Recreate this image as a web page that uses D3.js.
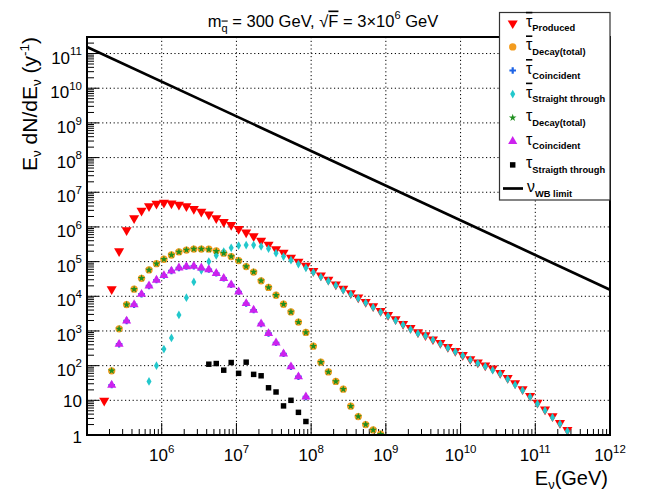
<!DOCTYPE html>
<html>
<head>
<meta charset="utf-8">
<script src="https://cdn.jsdelivr.net/npm/d3@7"></script>
<style>
  body { margin: 0; background: #fff; }
  svg text { font-family: "Liberation Sans", Arial, Helvetica, sans-serif; fill: #000; }
</style>
</head>
<body>
<script>
// bin energies in GeV (ten bins per decade)
const energies = [
  1.70e5, 2.14e5, 2.69e5, 3.39e5, 4.27e5, 5.37e5, 6.76e5, 8.51e5,
  1.07e6, 1.35e6, 1.70e6, 2.14e6, 2.69e6, 3.39e6, 4.27e6, 5.37e6, 6.76e6, 8.51e6,
  1.07e7, 1.35e7, 1.70e7, 2.14e7, 2.69e7, 3.39e7, 4.27e7, 5.37e7, 6.76e7, 8.51e7,
  1.07e8, 1.35e8, 1.70e8, 2.14e8, 2.69e8, 3.39e8, 4.27e8, 5.37e8, 6.76e8, 8.51e8,
  1.07e9, 1.35e9, 1.70e9, 2.14e9, 2.69e9, 3.39e9, 4.27e9, 5.37e9, 6.76e9, 8.51e9,
  1.07e10, 1.35e10, 1.70e10, 2.14e10, 2.69e10, 3.39e10, 4.27e10, 5.37e10, 6.76e10, 8.51e10,
  1.07e11, 1.35e11, 1.70e11, 2.14e11, 2.69e11
];

// each series starts at a bin index
const producedStart = 0;
const tauBarProduced = [
  9.8, 1.6e4, 2.0e5, 8.1e5, 1.8e6, 2.95e6, 4.0e6, 4.7e6, 5.0e6, 4.8e6,
  4.4e6, 4.0e6, 3.3e6, 2.75e6, 2.3e6, 1.8e6, 1.4e6, 1.15e6, 8.7e5, 6.9e5,
  5.4e5, 4.0e5, 3.1e5, 2.3e5, 1.8e5, 1.3e5, 1.0e5, 7.6e4, 5.4e4, 4.0e4,
  3.0e4, 2.2e4, 1.66e4, 1.23e4, 9.3e3, 6.9e3, 5.2e3, 3.8e3, 2.9e3, 2.2e3,
  1.6e3, 1.23e3, 930, 760, 575, 450, 345, 265, 205, 155,
  123, 102, 83, 62, 44, 31, 21, 13.5, 8.5, 5.5,
  3.5, 2.24, 1.4
];

const decayStart = 1;
const tauBarDecay = [
  71, 1.15e3, 5.75e3, 1.6e4, 3.3e4, 5.75e4, 8.7e4, 1.17e5, 1.55e5, 1.9e5,
  2.15e5, 2.3e5, 2.3e5, 2.3e5, 2.05e5, 1.75e5, 1.4e5, 1.07e5, 7.2e4, 5.0e4,
  2.8e4, 1.8e4, 1.07e4, 5.9e3, 3.55e3, 1.8e3, 910, 365, 126, 66,
  35, 21, 6.8, 3.4, 2.0, 1.4, 1.05
];
const tauDecay = [
  71, 1.15e3, 5.75e3, 1.6e4, 3.3e4, 5.75e4, 8.7e4, 1.17e5, 1.55e5, 1.9e5,
  2.15e5, 2.3e5, 2.3e5, 2.25e5, 2.0e5, 1.75e5, 1.4e5, 1.07e5, 7.2e4, 5.0e4,
  2.8e4, 1.8e4, 1.07e4, 5.9e3, 3.55e3, 1.8e3, 910, 365, 126, 66,
  35, 21, 6.8, 3.4, 2.0, 1.4, 1.05
];

const coincStart = 1;
const tauBarCoincident = [
  27.5, 417, 1.95e3, 5.75e3, 1.15e4, 2.0e4, 2.95e4, 4.0e4, 5.4e4, 6.6e4,
  7.2e4, 7.4e4, 6.0e4, 5.9e4, 4.6e4, 3.3e4, 2.15e4, 1.35e4, 6.2e3, 4.0e3,
  1.6e3, 850, 457, 219, 93, 48, 12.6
];
const tauCoincident = [
  27.5, 417, 1.95e3, 5.75e3, 1.15e4, 2.0e4, 2.95e4, 4.0e4, 5.4e4, 6.6e4,
  7.2e4, 7.4e4, 6.6e4, 5.9e4, 4.6e4, 3.3e4, 2.15e4, 1.35e4, 6.2e3, 4.0e3,
  1.6e3, 850, 457, 219, 93, 48, 12.6
];

const tauBarStraightStart = 6;
const tauBarStraight = [
  35, 100, 300, 630, 2.9e3, 9.1e3, 2.6e4, 5.6e4, 1.0e5, 1.5e5,
  1.95e5, 2.5e5, 2.9e5, 3.0e5, 3.0e5, 2.75e5, 2.35e5, 1.75e5, 1.4e5, 1.1e5,
  8.5e4, 6.6e4, 4.9e4, 3.6e4, 2.75e4, 2.05e4, 1.5e4, 1.15e4, 8.7e3, 6.5e3,
  4.8e3, 3.5e3, 2.7e3, 2.0e3, 1.5e3, 1.12e3, 850, 720, 550, 425,
  325, 250, 195, 148, 117, 95, 74, 58, 41, 28,
  19.5, 12.6, 7.9, 5.1, 3.2, 2.1, 1.3
];

const tauStraightStart = 14;
const tauStraight = [110, 115, 74, 123, 60, 126, 56, 51, 23, 17.4, 6.9, 10, 4.5, 2.45];

// Waxman-Bahcall limit
const wbEnergy = [1e5, 1e12];
const wbFlux = [1.55e11, 1.55e4];

const xTickValues = [1e6, 1e7, 1e8, 1e9, 1e10, 1e11, 1e12];
const xTickExp = ['6', '7', '8', '9', '10', '11', '12'];
const yTickValues = [1, 10, 1e2, 1e3, 1e4, 1e5, 1e6, 1e7, 1e8, 1e9, 1e10, 1e11];
const yTickExp = ['', '', '2', '3', '4', '5', '6', '7', '8', '9', '10', '11'];

window.onload = () => {
  const width = 646,
    height = 491,
    left = 87,
    right = 610,
    top = 37,
    bottom = 435;

  const svg = d3
    .select('body')
    .append('svg')
    .attr('width', width)
    .attr('height', height);

  svg.append('rect').attr('width', width).attr('height', height).attr('fill', '#fff');

  const x = d3.scaleLog().domain([1e5, 1e12]).range([left, right]);
  const y = d3.scaleLog().domain([1, 3e11]).range([bottom, top]);

  svg
    .append('clipPath')
    .attr('id', 'plot')
    .append('rect')
    .attr('x', left)
    .attr('y', top)
    .attr('width', right - left)
    .attr('height', bottom - top);

  // dotted grid
  const grid = svg.append('g').attr('stroke', '#000').attr('stroke-width', 1).attr('stroke-dasharray', '1.2,2.6');
  xTickValues.slice(0, -1).forEach(v => {
    grid.append('line').attr('x1', x(v)).attr('x2', x(v)).attr('y1', top).attr('y2', bottom);
  });
  yTickValues.slice(1).forEach(v => {
    grid.append('line').attr('x1', left).attr('x2', right).attr('y1', y(v)).attr('y2', y(v));
  });

  // ticks, drawn inside the frame
  const ticks = svg.append('g').attr('stroke', '#000').attr('stroke-width', 1);
  for (let e = 5; e < 12; e++) {
    for (let m = 1; m < 10; m++) {
      const v = m * Math.pow(10, e);
      const len = m === 1 ? 12 : 6;
      if (e === 5 && m === 1) continue;
      ticks.append('line').attr('x1', x(v)).attr('x2', x(v)).attr('y1', bottom).attr('y2', bottom - len);
    }
  }
  for (let e = 0; e < 12; e++) {
    for (let m = 1; m < 10; m++) {
      const v = m * Math.pow(10, e);
      if (v > 3e11) break;
      const len = m === 1 ? 12 : 7;
      ticks.append('line').attr('x1', left).attr('x2', left + len).attr('y1', y(v)).attr('y2', y(v));
    }
  }

  // tick labels
  xTickValues.forEach((v, i) => {
    const t = svg.append('text').attr('x', x(v)).attr('y', 461).attr('text-anchor', 'middle').attr('font-size', 17);
    t.append('tspan').text('10');
    t.append('tspan').attr('dy', -8.3).attr('font-size', 11.5).text(xTickExp[i]);
  });
  yTickValues.forEach((v, i) => {
    const t = svg.append('text').attr('x', 82).attr('text-anchor', 'end').attr('font-size', 17);
    if (i === 0) {
      t.attr('y', y(v) + 7.5).text('1');
    } else if (i === 1) {
      t.attr('y', y(v) + 6.3).text('10');
    } else {
      t.attr('y', y(v) + 10);
      t.append('tspan').text('10');
      t.append('tspan').attr('dy', -8.3).attr('font-size', 11.5).text(yTickExp[i]);
    }
  });

  // axis titles
  const xt = svg.append('text').attr('x', 608).attr('y', 485).attr('text-anchor', 'end').attr('font-size', 20);
  xt.append('tspan').text('E');
  xt.append('tspan').attr('dy', 4).attr('font-size', 13).text('ν');
  xt.append('tspan').attr('dy', -4).text('(GeV)');

  const yt = svg
    .append('text')
    .attr('transform', `translate(37,${top}) rotate(-90)`)
    .attr('text-anchor', 'end')
    .attr('font-size', 21);
  yt.append('tspan').text('E');
  yt.append('tspan').attr('dy', 4).attr('font-size', 13.5).text('ν');
  yt.append('tspan').attr('dy', -4).text(' dN/dE');
  yt.append('tspan').attr('dy', 4).attr('font-size', 13.5).text('ν');
  yt.append('tspan').attr('dy', -4).text(' (y');
  yt.append('tspan').attr('dy', -8).attr('font-size', 13.5).text('-1');
  yt.append('tspan').attr('dy', 8).text(')');

  // title
  const title = svg.append('text').attr('x', 323).attr('y', 26.5).attr('text-anchor', 'middle').attr('font-size', 16.5);
  title.append('tspan').text('m');
  title.append('tspan').attr('dy', 5).attr('font-size', 11).attr('text-decoration', 'overline').text('q');
  title.append('tspan').attr('dy', -5).text(' = 300 GeV, √');
  title.append('tspan').attr('text-decoration', 'overline').text('F');
  title.append('tspan').text(' = 3×10');
  title.append('tspan').attr('dy', -8).attr('font-size', 11).text('6');
  title.append('tspan').attr('dy', 8).text(' GeV');

  // WB limit line
  const wbLine = d3
    .line()
    .x(d => x(d[0]))
    .y(d => y(d[1]));
  svg
    .append('path')
    .datum(wbEnergy.map((e, i) => [e, wbFlux[i]]))
    .attr('clip-path', 'url(#plot)')
    .attr('d', wbLine)
    .attr('fill', 'none')
    .attr('stroke', '#000')
    .attr('stroke-width', 2.7);

  // series drawn in legend order
  const series = [
    { vals: tauBarProduced, start: producedStart, type: d3.symbolTriangle, size: 44, rot: 180, color: '#ff0000', name: 'Produced', bar: true },
    { vals: tauBarDecay, start: decayStart, type: d3.symbolCircle, size: 42, rot: 0, color: '#f39c1f', name: 'Decay(total)', bar: true },
    { vals: tauBarCoincident, start: coincStart, type: d3.symbolCross, size: 24, rot: 0, color: '#1e64e6', name: 'Coincident', bar: true },
    { vals: tauBarStraight, start: tauBarStraightStart, type: d3.symbolDiamond, size: 22, rot: 0, color: '#22c8cc', name: 'Straight through', bar: true },
    { vals: tauDecay, start: decayStart, type: d3.symbolStar, size: 18, rot: 0, color: '#1f8f1f', name: 'Decay(total)', bar: false },
    { vals: tauCoincident, start: coincStart, type: d3.symbolTriangle, size: 36, rot: 0, color: '#cc22ee', name: 'Coincident', bar: false },
    { vals: tauStraight, start: tauStraightStart, type: d3.symbolSquare, size: 30, rot: 0, color: '#000000', name: 'Straigth through', bar: false }
  ];

  const marks = svg.append('g').attr('clip-path', 'url(#plot)');
  series.forEach(s => {
    const sym = d3.symbol().type(s.type).size(s.size);
    marks
      .append('g')
      .selectAll('path')
      .data(s.vals.map((v, i) => [energies[s.start + i], v]))
      .join('path')
      .attr('d', sym)
      .attr('fill', s.color)
      .attr('transform', d => `translate(${x(d[0])},${y(d[1])}) rotate(${s.rot})`);
  });

  // frame
  svg
    .append('rect')
    .attr('x', left)
    .attr('y', top)
    .attr('width', right - left)
    .attr('height', bottom - top)
    .attr('fill', 'none')
    .attr('stroke', '#000')
    .attr('stroke-width', 2);

  // legend
  const lg = svg.append('g');
  lg.append('rect')
    .attr('x', 499.5)
    .attr('y', 12.5)
    .attr('width', 110.5)
    .attr('height', 187.5)
    .attr('fill', '#fff')
    .attr('stroke', '#333')
    .attr('stroke-width', 1.2);

  const rowY = k => 23.3 + k * 23.6;
  series.forEach((s, k) => {
    const r = rowY(k);
    lg.append('path')
      .attr('d', d3.symbol().type(s.type).size(s.size)())
      .attr('fill', s.color)
      .attr('transform', `translate(512.7,${r}) rotate(${s.rot})`);
    const t = lg.append('text').attr('x', 526).attr('y', r + 3.5);
    const tau = t.append('tspan').attr('font-size', 16).text('τ');
    if (s.bar) tau.attr('text-decoration', 'overline');
    t.append('tspan').attr('dy', 4.5).attr('font-size', 9.3).attr('font-weight', 'bold').text(s.name);
  });
  const rw = rowY(7);
  lg.append('line').attr('x1', 503).attr('x2', 523).attr('y1', rw).attr('y2', rw).attr('stroke', '#000').attr('stroke-width', 2.7);
  const nu = lg.append('text').attr('x', 527).attr('y', rw + 3.5);
  nu.append('tspan').attr('font-size', 16).text('ν');
  nu.append('tspan').attr('dy', 4.5).attr('font-size', 9.3).attr('font-weight', 'bold').text('WB limit');
};
</script>
</body>
</html>
